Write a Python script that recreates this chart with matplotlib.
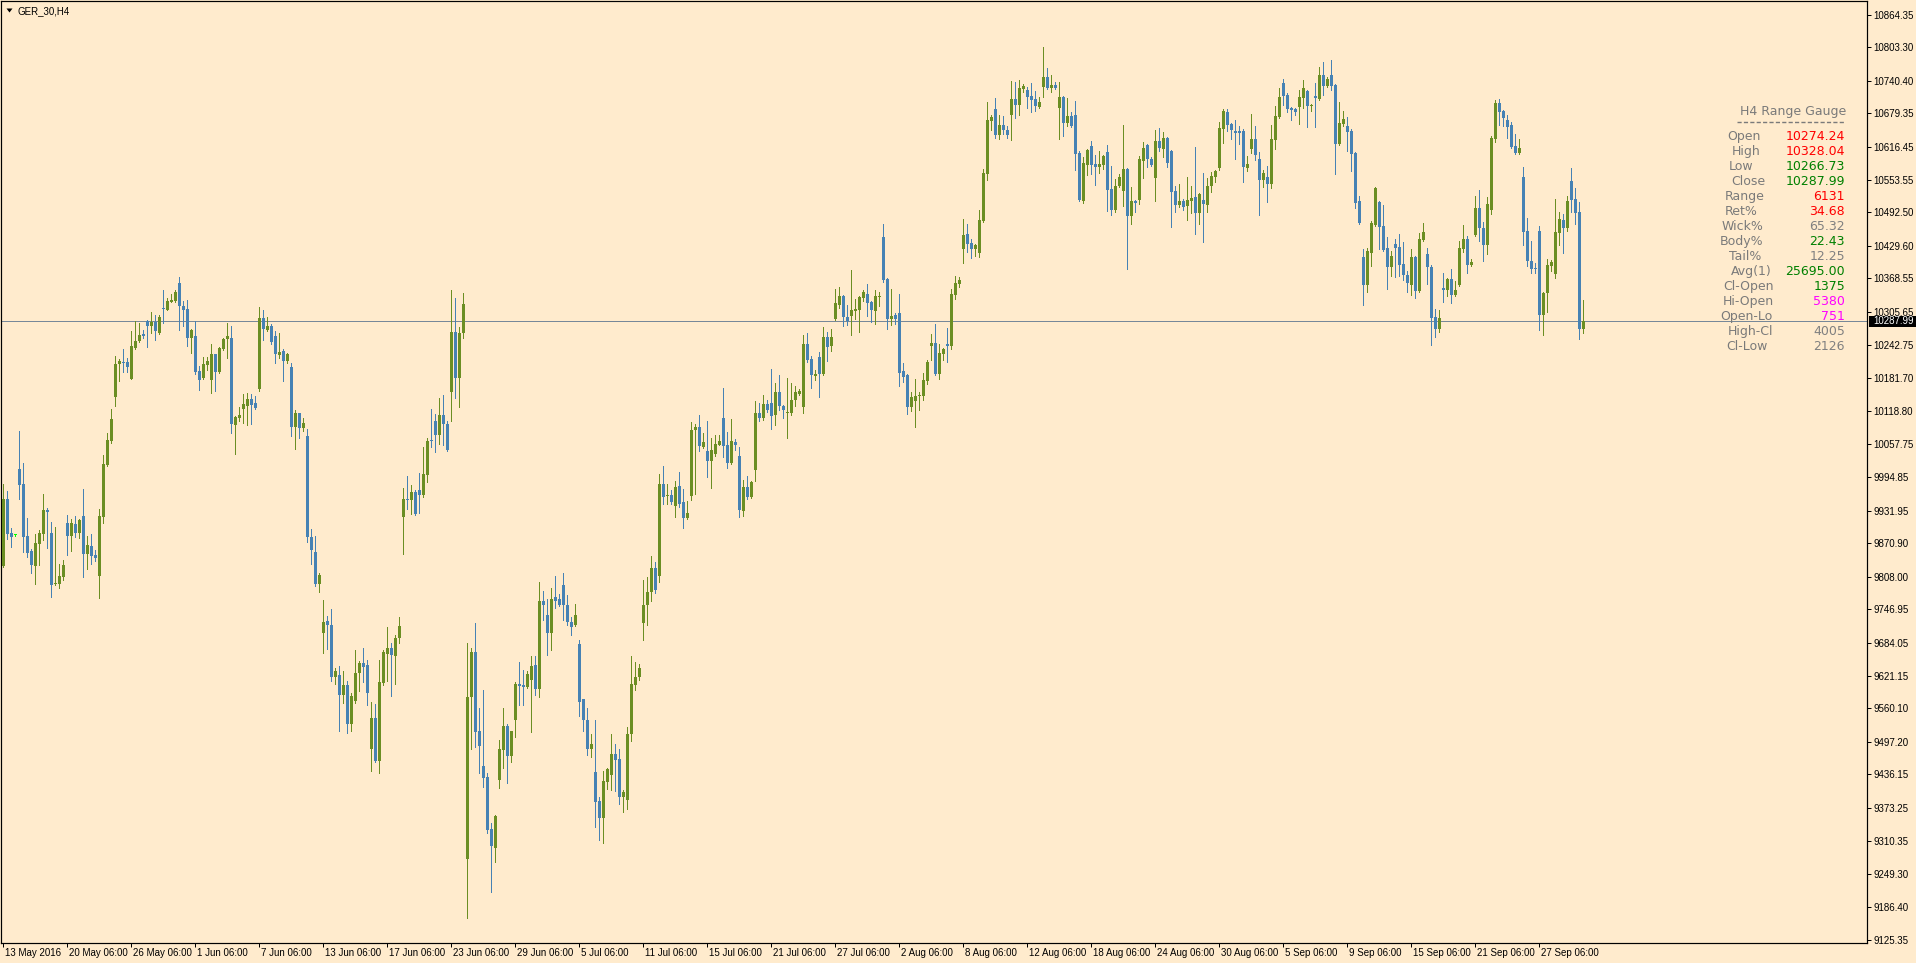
import matplotlib
matplotlib.use("Agg")
import matplotlib.pyplot as plt
from matplotlib.patches import Rectangle, Polygon
from matplotlib.collections import PatchCollection
from matplotlib.lines import Line2D
from matplotlib.transforms import ScaledTranslation

# ---------------- data ----------------
symbol_title = "GER_30,H4"

opens = [
9828.5, 9953.9, 9890.0, 9885.6, 10010.3, 9982.1, 9884.3, 9856.1, 9827.9, 9869.3,
9888.1, 9933.2, 9890.0, 9794.1, 9794.1, 9807.2, 9908.7, 9884.3, 9906.9, 9890.0,
9921.9, 9850.5, 9865.5, 9848.6, 9809.1, 9920.0, 10017.8, 10062.9, 10145.2, 10207.1,
10211.9, 10211.1, 10179.7, 10236.9, 10250.3, 10264.4, 10287.9, 10278.5, 10286.4, 10266.8,
10312.3, 10309.9, 10324.8, 10326.4, 10360.1, 10317.0, 10311.5, 10256.6, 10259.7, 10194.6,
10180.5, 10206.4, 10177.3, 10226.0, 10193.0, 10236.2, 10254.2, 10257.3, 10093.4, 10106.8,
10122.5, 10129.5, 10142.0, 10135.0, 10160.1, 10293.4, 10272.3, 10278.5, 10259.7, 10224.4,
10231.5, 10213.4, 10201.7, 10088.7, 10116.2, 10086.4, 10071.5, 9882.4, 9855.0, 9794.6,
9701.3, 9724.8, 9716.9, 9618.9, 9622.8, 9586.0, 9604.8, 9530.3, 9575.0, 9626.0,
9644.8, 9642.5, 9483.2, 9542.1, 9460.5, 9608.0, 9662.1, 9674.6, 9658.1, 9692.6,
9919.6, 9953.2, 9952.4, 9966.8, 9970.0, 9961.2, 9998.8, 10065.3, 10099.7, 10074.1,
10112.5, 10095.7, 10155.0, 10267.9, 10180.6, 10266.3, 9276.6, 9582.5, 9666.6, 9516.8,
9451.2, 9430.4, 9333.5, 9298.3, 9425.6, 9482.4, 9526.4, 9471.2, 9538.4, 9606.5,
9603.3, 9600.1, 9612.9, 9642.5, 9596.1, 9762.6, 9736.2, 9701.0, 9769.8, 9765.0,
9792.3, 9754.6, 9721.8, 9716.2, 9681.8, 9576.9, 9539.2, 9483.2, 9440.0, 9385.5,
9354.3, 9422.3, 9435.2, 9473.6, 9464.8, 9394.3, 9388.7, 9512.0, 9604.1, 9618.5,
9720.2, 9753.8, 9778.6, 9824.3, 9808.3, 9981.2, 9959.6, 9962.0, 9941.2, 9978.0,
9947.6, 9918.8, 9958.8, 10082.9, 10090.1, 10052.5, 10044.5, 10025.3, 10038.1, 10055.7,
10105.3, 10054.9, 10021.3, 10060.5, 10034.1, 9931.6, 9975.6, 9957.2, 10007.6, 10114.9,
10105.3, 10131.8, 10133.4, 10111.7, 10154.2, 10129.4, 10115.7, 10114.9, 10139.8, 10151.8,
10127.4, 10245.2, 10217.0, 10185.7, 10220.8, 10188.8, 10258.4, 10242.1, 10292.3, 10318.6,
10335.5, 10296.0, 10297.9, 10307.3, 10309.2, 10331.7, 10339.3, 10324.2, 10307.3, 10333.6,
10446.4, 10367.5, 10292.3, 10299.8, 10303.5, 10194.5, 10186.9, 10126.8, 10138.1, 10147.5,
10147.5, 10175.7, 10241.5, 10247.1, 10188.8, 10226.4, 10245.2, 10241.5, 10337.4, 10358.0,
10423.9, 10452.1, 10435.1, 10423.9, 10416.3, 10476.5, 10564.9, 10664.5, 10687.1, 10638.2,
10657.0, 10647.6, 10675.8, 10705.9, 10694.6, 10724.7, 10722.8, 10711.5, 10705.9, 10690.8,
10728.4, 10747.2, 10726.6, 10732.2, 10688.9, 10709.6, 10660.8, 10673.9, 10675.8, 10604.4,
10514.1, 10581.8, 10617.5, 10583.7, 10578.0, 10581.8, 10606.2, 10536.7, 10497.2, 10542.3,
10532.9, 10574.3, 10485.9, 10514.1, 10516.0, 10589.3, 10619.4, 10593.1, 10557.4, 10626.9,
10611.9, 10632.5, 10608.1, 10532.9, 10506.6, 10514.1, 10504.7, 10514.1, 10521.6, 10491.5,
10516.0, 10507.2, 10542.3, 10559.9, 10576.1, 10649.5, 10681.4, 10658.9, 10645.7, 10645.7,
10645.7, 10576.1, 10611.9, 10630.7, 10593.1, 10553.6, 10559.2, 10546.1, 10628.8, 10672.0,
10736.0, 10713.4, 10688.9, 10687.1, 10690.8, 10707.8, 10720.9, 10692.7, 10711.5, 10705.9,
10751.0, 10730.3, 10751.0, 10732.2, 10621.3, 10658.9, 10655.1, 10645.7, 10604.4, 10514.1,
10408.8, 10356.2, 10416.3, 10469.0, 10512.2, 10467.1, 10425.7, 10390.0, 10433.3, 10427.6,
10395.7, 10375.0, 10356.2, 10408.8, 10344.9, 10440.8, 10414.5, 10390.0, 10296.0, 10273.4,
10350.5, 10346.8, 10367.5, 10337.4, 10356.2, 10423.9, 10442.7, 10393.8, 10450.2, 10501.0,
10463.3, 10431.4, 10497.2, 10630.7, 10698.4, 10683.3, 10666.4, 10657.0, 10617.5, 10604.4,
10559.2, 10457.7, 10401.3, 10388.1, 10457.7, 10299.8, 10341.1, 10391.9, 10376.9, 10453.9,
10478.4, 10463.3, 10551.7, 10517.9, 10493.4, 10274.24,
]

highs = [
9982.1, 9968.9, 9899.3, 9887.0, 10081.7, 10021.6, 9918.1, 9859.9, 9888.1, 9895.6,
9963.3, 9936.9, 9910.6, 9901.2, 9831.7, 9839.2, 9923.8, 9916.2, 9921.9, 9916.3,
9972.7, 9884.3, 9888.1, 9858.0, 9935.1, 10036.6, 10077.9, 10123.1, 10222.0, 10217.3,
10235.4, 10218.9, 10269.1, 10287.9, 10284.0, 10270.7, 10291.1, 10306.0, 10300.5, 10300.5,
10346.8, 10331.9, 10339.7, 10347.5, 10371.1, 10326.4, 10328.7, 10273.8, 10288.7, 10204.0,
10220.5, 10220.5, 10244.8, 10226.0, 10239.3, 10257.3, 10284.0, 10278.5, 10109.9, 10127.2,
10151.5, 10153.0, 10151.5, 10147.5, 10315.4, 10308.3, 10296.6, 10282.4, 10269.1, 10266.8,
10235.4, 10228.3, 10210.3, 10121.7, 10116.2, 10105.2, 10084.8, 9896.6, 9884.8, 9814.2,
9764.8, 9734.2, 9746.8, 9636.9, 9639.3, 9629.9, 9612.6, 9589.9, 9669.9, 9649.5,
9674.6, 9651.9, 9571.9, 9567.9, 9651.9, 9670.7, 9712.3, 9684.0, 9698.9, 9731.1,
9974.0, 9996.4, 9979.6, 9970.0, 10002.0, 10050.9, 10069.3, 10122.2, 10113.3, 10143.0,
10150.2, 10101.3, 10347.2, 10331.9, 10277.5, 10341.5, 9683.4, 9674.6, 9721.0, 9560.1,
9595.3, 9438.4, 9344.7, 9359.0, 9501.6, 9560.1, 9530.4, 9518.4, 9610.5, 9646.5,
9632.9, 9629.7, 9657.8, 9659.4, 9797.9, 9781.0, 9765.8, 9786.7, 9809.1, 9775.4,
9814.7, 9773.0, 9732.2, 9757.0, 9689.0, 9578.5, 9560.1, 9511.2, 9537.6, 9394.3,
9441.6, 9448.0, 9511.2, 9492.8, 9483.2, 9406.3, 9524.8, 9657.8, 9648.1, 9644.1,
9801.1, 9806.7, 9846.7, 9835.5, 10000.4, 10015.7, 9981.2, 9970.0, 9986.8, 10004.4,
9972.4, 9950.0, 10098.9, 10094.1, 10112.5, 10077.3, 10101.3, 10067.7, 10073.3, 10075.0,
10163.0, 10080.5, 10103.7, 10066.9, 10052.5, 9989.2, 9996.4, 9987.6, 10138.2, 10133.4,
10148.6, 10140.6, 10197.4, 10171.0, 10187.0, 10131.0, 10182.2, 10171.0, 10165.4, 10160.6,
10262.8, 10265.9, 10222.7, 10196.4, 10230.2, 10277.2, 10267.8, 10273.4, 10348.7, 10352.4,
10337.0, 10318.6, 10384.4, 10329.8, 10335.0, 10346.8, 10358.0, 10326.1, 10346.8, 10343.0,
10470.9, 10369.0, 10348.7, 10303.5, 10339.3, 10209.5, 10188.5, 10155.0, 10179.4, 10155.0,
10190.7, 10215.2, 10264.0, 10282.9, 10245.2, 10237.7, 10275.3, 10348.7, 10373.1, 10371.2,
10480.3, 10470.9, 10442.7, 10433.3, 10497.2, 10574.3, 10700.2, 10675.8, 10707.8, 10675.8,
10673.9, 10655.1, 10739.7, 10737.8, 10741.6, 10734.1, 10728.4, 10736.0, 10720.9, 10709.6,
10804.3, 10764.2, 10751.0, 10737.8, 10737.8, 10711.5, 10707.8, 10681.4, 10702.1, 10608.1,
10596.8, 10611.9, 10626.9, 10600.6, 10608.1, 10600.0, 10619.4, 10579.9, 10555.5, 10564.9,
10657.0, 10576.1, 10540.4, 10516.0, 10598.7, 10625.0, 10621.3, 10596.8, 10647.6, 10651.4,
10643.8, 10634.4, 10610.0, 10542.3, 10546.1, 10517.9, 10559.2, 10542.3, 10615.6, 10529.1,
10566.1, 10557.4, 10568.6, 10572.4, 10662.6, 10687.1, 10687.1, 10660.0, 10666.4, 10655.1,
10649.5, 10598.7, 10677.7, 10655.1, 10606.2, 10572.4, 10579.9, 10657.0, 10692.7, 10726.6,
10743.5, 10717.2, 10690.0, 10688.9, 10722.8, 10741.6, 10722.8, 10696.5, 10736.0, 10766.0,
10775.4, 10747.2, 10779.2, 10733.5, 10700.2, 10683.3, 10672.0, 10649.5, 10606.2, 10523.5,
10423.9, 10425.7, 10476.5, 10540.4, 10513.5, 10506.6, 10446.4, 10420.1, 10442.7, 10452.1,
10437.0, 10382.5, 10423.9, 10410.7, 10454.0, 10472.7, 10425.7, 10393.8, 10311.0, 10309.2,
10378.7, 10369.3, 10386.3, 10363.7, 10438.9, 10469.0, 10448.3, 10405.1, 10523.5, 10534.8,
10474.6, 10521.6, 10636.3, 10704.0, 10705.9, 10685.2, 10675.8, 10662.6, 10640.1, 10630.7,
10578.0, 10482.1, 10438.9, 10397.5, 10467.1, 10343.0, 10405.1, 10403.2, 10517.9, 10493.4,
10489.7, 10523.5, 10576.1, 10538.5, 10512.2, 10328.04,
]

lows = [
9826.6, 9878.7, 9863.6, 9884.2, 9953.9, 9854.2, 9844.8, 9814.7, 9794.1, 9829.8,
9876.8, 9861.7, 9769.6, 9792.2, 9786.5, 9801.6, 9848.6, 9856.1, 9882.4, 9880.5,
9807.2, 9822.3, 9831.7, 9837.3, 9767.7, 9908.7, 10015.9, 10059.2, 10129.5, 10175.0,
10192.2, 10192.2, 10179.7, 10235.4, 10249.5, 10257.3, 10239.3, 10266.8, 10252.6, 10263.6,
10284.0, 10308.3, 10324.0, 10324.8, 10270.7, 10278.5, 10240.9, 10227.5, 10188.3, 10159.3,
10179.7, 10196.2, 10153.0, 10157.0, 10191.5, 10233.8, 10219.7, 10077.0, 10039.3, 10100.5,
10097.3, 10092.6, 10094.2, 10123.2, 10157.0, 10252.6, 10269.9, 10245.6, 10210.3, 10219.7,
10175.0, 10210.3, 10072.3, 10047.2, 10068.3, 10081.7, 9872.2, 9831.5, 9790.7, 9779.7,
9664.4, 9672.3, 9611.1, 9605.6, 9517.0, 9571.1, 9513.0, 9517.7, 9571.1, 9593.8,
9610.3, 9567.1, 9443.2, 9458.9, 9439.3, 9604.0, 9612.6, 9583.6, 9606.4, 9684.0,
9850.7, 9934.8, 9925.2, 9924.0, 9927.6, 9957.2, 9985.2, 10052.5, 10041.3, 10056.5,
10054.9, 10043.7, 10101.3, 10143.0, 10126.2, 10255.9, 9166.1, 9484.0, 9488.0, 9438.4,
9412.7, 9326.3, 9215.8, 9271.8, 9411.1, 9448.0, 9419.9, 9459.2, 9506.4, 9566.5,
9566.5, 9597.7, 9516.0, 9584.9, 9581.7, 9726.6, 9660.2, 9669.8, 9749.8, 9752.6,
9726.6, 9717.0, 9698.6, 9714.6, 9545.6, 9518.4, 9472.0, 9468.0, 9336.7, 9312.6,
9306.2, 9408.7, 9407.1, 9404.7, 9379.9, 9365.5, 9371.1, 9498.4, 9594.5, 9612.9,
9688.2, 9717.0, 9761.8, 9777.8, 9797.9, 9944.4, 9944.4, 9944.4, 9919.6, 9938.8,
9898.8, 9916.4, 9952.4, 9963.6, 10044.5, 10049.3, 9994.8, 9974.8, 10034.1, 10054.5,
10033.3, 10012.5, 10018.9, 10046.1, 9919.6, 9922.0, 9953.2, 9956.0, 9986.8, 10100.5,
10102.9, 10117.4, 10086.1, 10093.3, 10121.4, 10106.1, 10068.5, 10111.7, 10128.6, 10148.6,
10116.1, 10210.8, 10163.1, 10177.6, 10146.2, 10186.9, 10213.3, 10232.1, 10290.4, 10312.9,
10279.1, 10281.0, 10262.2, 10292.3, 10267.8, 10326.1, 10297.9, 10286.6, 10282.9, 10316.7,
10361.8, 10273.4, 10281.0, 10282.9, 10166.3, 10173.8, 10114.2, 10119.3, 10089.2, 10121.2,
10140.0, 10170.1, 10215.2, 10187.3, 10179.4, 10215.2, 10211.4, 10235.8, 10329.8, 10352.4,
10397.5, 10418.2, 10406.9, 10410.7, 10408.8, 10475.0, 10553.6, 10647.6, 10632.5, 10630.7,
10640.1, 10632.5, 10628.8, 10670.2, 10675.8, 10719.0, 10688.9, 10681.4, 10683.3, 10689.5,
10709.6, 10724.7, 10719.0, 10724.7, 10630.7, 10636.3, 10655.1, 10653.2, 10572.4, 10514.1,
10510.3, 10563.0, 10564.9, 10544.2, 10566.7, 10574.3, 10495.3, 10487.8, 10493.4, 10540.4,
10504.7, 10386.3, 10470.9, 10493.4, 10508.5, 10557.4, 10578.0, 10580.5, 10514.1, 10608.1,
10596.8, 10578.0, 10465.2, 10493.4, 10502.8, 10497.2, 10478.4, 10491.5, 10452.1, 10470.9,
10437.6, 10494.0, 10531.7, 10550.5, 10572.4, 10623.1, 10645.7, 10630.7, 10593.1, 10621.3,
10549.8, 10570.5, 10604.4, 10591.2, 10487.8, 10540.4, 10512.2, 10538.5, 10611.9, 10670.5,
10694.6, 10681.4, 10666.4, 10675.8, 10658.9, 10688.9, 10653.2, 10683.3, 10653.2, 10704.5,
10713.4, 10728.4, 10722.8, 10564.9, 10619.4, 10655.1, 10608.1, 10570.5, 10500.9, 10471.5,
10318.6, 10343.0, 10391.9, 10467.1, 10423.9, 10420.1, 10348.7, 10373.1, 10371.2, 10373.1,
10365.6, 10343.0, 10337.4, 10331.7, 10343.5, 10438.9, 10358.0, 10243.4, 10258.4, 10267.8,
10324.2, 10335.5, 10322.3, 10335.5, 10355.0, 10418.2, 10378.7, 10391.9, 10448.3, 10438.9,
10401.3, 10414.5, 10489.7, 10625.0, 10657.0, 10655.1, 10632.5, 10614.5, 10602.5, 10602.5,
10431.4, 10391.9, 10378.7, 10378.7, 10271.6, 10262.2, 10305.4, 10382.5, 10369.3, 10431.4,
10416.3, 10457.7, 10493.4, 10470.9, 10254.6, 10266.73,
]

closes = [
9953.9, 9888.1, 9882.4, 9885.6, 9980.2, 9882.4, 9852.3, 9829.8, 9871.1, 9890.0,
9933.2, 9929.4, 9792.2, 9795.9, 9809.1, 9829.8, 9884.3, 9908.7, 9890.0, 9914.4,
9850.5, 9867.4, 9846.7, 9842.9, 9921.9, 10019.7, 10064.8, 10104.3, 10207.1, 10212.6,
10210.3, 10201.7, 10240.9, 10250.3, 10261.3, 10259.7, 10278.5, 10286.4, 10269.1, 10296.6,
10310.7, 10326.4, 10328.7, 10343.6, 10316.2, 10309.9, 10256.6, 10271.5, 10193.0, 10177.3,
10207.1, 10212.6, 10226.0, 10193.0, 10237.7, 10254.2, 10259.7, 10094.2, 10108.3, 10112.2,
10131.9, 10142.0, 10131.1, 10125.6, 10293.4, 10273.0, 10278.5, 10249.5, 10226.8, 10230.7,
10213.4, 10226.8, 10088.7, 10116.2, 10086.4, 10095.8, 9882.4, 9858.1, 9794.6, 9810.3,
9723.2, 9716.9, 9618.9, 9629.9, 9586.0, 9604.8, 9530.3, 9583.6, 9626.0, 9646.4,
9638.5, 9589.9, 9542.1, 9460.5, 9609.5, 9666.0, 9674.6, 9661.3, 9693.4, 9715.4,
9953.2, 9951.6, 9966.8, 9925.2, 9961.2, 10000.4, 10062.9, 10062.1, 10074.1, 10112.5,
10094.9, 10046.9, 10267.9, 10180.6, 10266.3, 10320.7, 9582.5, 9666.6, 9516.0, 9490.4,
9428.8, 9331.9, 9300.7, 9357.5, 9483.2, 9526.4, 9471.2, 9516.8, 9606.5, 9601.7,
9600.1, 9624.9, 9640.1, 9596.1, 9762.6, 9753.8, 9701.0, 9765.8, 9762.6, 9753.8,
9753.8, 9721.8, 9713.8, 9736.2, 9572.9, 9538.4, 9483.2, 9492.8, 9384.7, 9354.3,
9423.1, 9446.4, 9473.6, 9462.4, 9394.3, 9403.1, 9512.8, 9606.5, 9620.1, 9637.0,
9754.6, 9779.4, 9824.3, 9783.5, 9981.2, 9957.2, 9962.0, 9947.6, 9975.6, 9944.4,
9918.8, 9927.6, 10084.5, 10090.1, 10053.3, 10060.5, 10025.3, 10046.9, 10056.5, 10063.7,
10053.3, 10021.3, 10062.1, 10054.9, 9934.0, 9975.6, 9957.2, 9986.0, 10114.9, 10106.9,
10131.8, 10121.4, 10110.1, 10154.2, 10128.6, 10121.4, 10118.2, 10140.6, 10154.2, 10157.4,
10245.2, 10215.8, 10187.6, 10189.5, 10189.5, 10258.4, 10239.6, 10258.4, 10322.3, 10335.5,
10296.0, 10288.5, 10309.2, 10311.0, 10333.6, 10343.0, 10322.3, 10309.2, 10335.5, 10335.5,
10365.6, 10292.3, 10297.9, 10292.3, 10190.7, 10183.2, 10126.8, 10145.6, 10147.5, 10149.4,
10177.6, 10211.4, 10247.1, 10188.8, 10228.3, 10235.8, 10241.5, 10339.3, 10360.0, 10365.6,
10450.2, 10433.3, 10423.9, 10431.4, 10478.4, 10566.7, 10666.4, 10672.0, 10638.2, 10657.0,
10647.6, 10638.2, 10705.9, 10694.6, 10726.6, 10730.3, 10709.6, 10704.0, 10692.7, 10700.2,
10747.2, 10726.6, 10732.2, 10726.6, 10709.6, 10660.8, 10673.9, 10655.1, 10602.5, 10516.0,
10585.5, 10610.0, 10581.8, 10578.0, 10583.7, 10598.7, 10534.8, 10497.2, 10542.3, 10559.2,
10574.3, 10485.9, 10514.1, 10510.3, 10593.1, 10613.7, 10593.1, 10581.8, 10626.9, 10613.7,
10632.5, 10585.5, 10531.0, 10506.6, 10514.1, 10502.8, 10516.0, 10519.7, 10491.5, 10527.3,
10509.1, 10542.3, 10561.1, 10570.5, 10651.4, 10683.3, 10657.0, 10647.6, 10642.0, 10642.0,
10578.0, 10583.7, 10630.7, 10600.6, 10553.6, 10566.7, 10546.1, 10630.7, 10673.9, 10709.6,
10711.5, 10687.1, 10685.2, 10681.4, 10709.6, 10726.6, 10692.7, 10694.6, 10707.8, 10751.0,
10730.3, 10743.5, 10730.3, 10621.3, 10660.8, 10668.3, 10643.8, 10602.5, 10510.3, 10472.7,
10356.2, 10420.1, 10472.7, 10538.5, 10465.2, 10422.0, 10390.0, 10410.7, 10425.7, 10393.8,
10375.0, 10359.9, 10408.8, 10344.9, 10442.7, 10455.8, 10390.0, 10294.1, 10273.4, 10294.1,
10346.8, 10367.5, 10337.4, 10346.8, 10425.7, 10442.7, 10393.8, 10399.4, 10501.0, 10463.3,
10431.4, 10508.5, 10632.5, 10698.4, 10681.4, 10670.2, 10653.2, 10615.6, 10604.4, 10613.7,
10455.8, 10401.3, 10386.3, 10386.3, 10299.8, 10341.1, 10393.8, 10399.4, 10455.8, 10480.3,
10463.3, 10514.1, 10516.0, 10491.5, 10273.4, 10287.99,
]

price_ticks = [10864.35, 10803.30, 10740.40, 10679.35, 10616.45, 10553.55, 10492.50,
               10429.60, 10368.55, 10305.65, 10242.75, 10181.70, 10118.80, 10057.75,
               9994.85, 9931.95, 9870.90, 9808.00, 9746.95, 9684.05, 9621.15, 9560.10,
               9497.20, 9436.15, 9373.25, 9310.35, 9249.30, 9186.40, 9125.35]
price_tick_labels = ["%.2f" % v for v in price_ticks]

date_tick_bars = [0, 16, 32, 48, 64, 80, 96, 112, 128, 144, 160, 176, 192, 208, 224,
                  240, 256, 272, 288, 304, 320, 336, 352, 368, 384]
date_tick_labels = ["13 May 2016", "20 May 06:00", "26 May 06:00", "1 Jun 06:00",
                    "7 Jun 06:00", "13 Jun 06:00", "17 Jun 06:00", "23 Jun 06:00",
                    "29 Jun 06:00", "5 Jul 06:00", "11 Jul 06:00", "15 Jul 06:00",
                    "21 Jul 06:00", "27 Jul 06:00", "2 Aug 06:00", "8 Aug 06:00",
                    "12 Aug 06:00", "18 Aug 06:00", "24 Aug 06:00", "30 Aug 06:00",
                    "5 Sep 06:00", "9 Sep 06:00", "15 Sep 06:00", "21 Sep 06:00",
                    "27 Sep 06:00"]

gauge_title = "H4 Range Gauge"
gauge_labels = ["Open", "High", "Low", "Close", "Range", "Ret%", "Wick%", "Body%",
                "Tail%", "Avg(1)", "Cl-Open", "Hi-Open", "Open-Lo", "High-Cl", "Cl-Low"]
gauge_values = ["10274.24", "10328.04", "10266.73", "10287.99", "6131", "34.68",
                "65.32", "22.43", "12.25", "25695.00", "1375", "5380", "751",
                "4005", "2126"]
gauge_value_colors = ["#FF0000", "#FF0000", "#008000", "#008000", "#FF0000", "#FF0000",
                      "#808080", "#008000", "#808080", "#008000", "#008000", "#FF00FF",
                      "#FF00FF", "#808080", "#808080"]

# ---------------- layout / style ----------------
W, H = 1916, 963
BG = "#FFEBCD"
BULL = "#6B8E23"
BEAR = "#4682B4"
DOJI = "#00FF00"
PX = 0.72  # one pixel in points at 100 dpi

plt.rcParams["font.family"] = ["Liberation Sans", "DejaVu Sans"]

fig = plt.figure(figsize=(W / 100, H / 100), dpi=100)
fig.patch.set_facecolor(BG)

ax_left_px, ax_right_px, ax_top_px, ax_bot_px = 1, 1867, 1, 943
ax = fig.add_axes([ax_left_px / W, (H - ax_bot_px) / H,
                   (ax_right_px - ax_left_px) / W, (ax_bot_px - ax_top_px) / H])
ax.set_facecolor(BG)

n = len(closes)
bar_px = 4.0
first_px = 3.3
ax.set_xlim(-(first_px - ax_left_px) / bar_px, (ax_right_px - first_px) / bar_px)
ax.set_ylim(9119.1, 10890.1)

# wicks
xs = list(range(n))
cols = []
for o, c in zip(opens, closes):
    if o == c:
        cols.append(DOJI)
    elif c > o:
        cols.append(BULL)
    else:
        cols.append(BEAR)
ax.vlines(xs, lows, highs, colors=cols, linewidth=1.0 * PX, antialiased=False, zorder=2)

# bodies
min_h = 1.9
rects = []
for i, (o, c) in enumerate(zip(opens, closes)):
    b = min(o, c)
    h = max(abs(c - o), min_h)
    rects.append(Rectangle((i - 0.375, b), 0.75, h))
pc = PatchCollection(rects, facecolors=cols, edgecolors="none", antialiased=False, zorder=3)
ax.add_collection(pc)

# current price line
last_close = closes[-1]
ax.axhline(last_close, color="#778899", linewidth=1.0 * PX, zorder=1)

# axes styling
for s in ax.spines.values():
    s.set_color("black")
    s.set_linewidth(1.2 * PX)

ax.yaxis.tick_right()
ax.set_yticks(price_ticks)
ax.set_yticklabels(price_tick_labels)
ax.tick_params(axis="y", direction="out", length=4 * PX, width=PX, pad=2,
               labelsize=7, colors="black")

ax.set_xticks(date_tick_bars)
ax.set_xticklabels(date_tick_labels)
ax.tick_params(axis="x", direction="out", length=4 * PX, width=PX, pad=1,
               labelsize=7, colors="black")
shift = ScaledTranslation(2 / 100, 0, fig.dpi_scale_trans)
for lab in ax.get_xticklabels():
    lab.set_horizontalalignment("left")
    lab.set_transform(lab.get_transform() + shift)


def fx(px):
    return px / W


def fy(py):
    return 1 - py / H


# current price box on the right axis
yline = ax.transData.transform((0, last_close))[1]  # display pixels from bottom
box_h = 11
fig.patches.append(Rectangle((fx(1869), (yline - box_h / 2) / H), fx(47), box_h / H,
                             transform=fig.transFigure, facecolor="black",
                             edgecolor="none", zorder=5))
fig.text(fx(1873), yline / H, "%.2f" % last_close, color="white", fontsize=7,
         ha="left", va="center", zorder=6)

# title with small triangle
fig.patches.append(Polygon([(fx(6.5), fy(8.5)), (fx(12.5), fy(8.5)), (fx(9.5), fy(12.5))],
                           closed=True, transform=fig.transFigure, facecolor="black",
                           edgecolor="none", zorder=5))
fig.text(fx(18), fy(11), symbol_title, fontsize=7, color="black", ha="left", va="center")

# range gauge panel
GREY = "#7A7A7A"
gfont = ["DejaVu Sans"]
fig.text(fx(1846), fy(111.7), gauge_title, fontsize=9, color=GREY, ha="right",
         va="center", family=gfont)
fig.add_artist(Line2D([fx(1737), fx(1845)], [fy(122.3), fy(122.3)],
                      transform=fig.transFigure, color=GREY, linewidth=1.0,
                      linestyle=(0, (3.0, 1.6))))
label_left_px = [1727, 1732, 1729, 1731, 1725, 1725, 1722, 1720, 1729, 1731,
                 1723, 1723, 1720, 1728, 1726]
for k, (lab, val, col) in enumerate(zip(gauge_labels, gauge_values, gauge_value_colors)):
    yy = 136.7 + 15 * k
    fig.text(fx(label_left_px[k]), fy(yy), lab, fontsize=9, color=GREY, ha="left",
             va="center", family=gfont)
    fig.text(fx(1845), fy(yy), val, fontsize=9, color=col, ha="right",
             va="center", family=gfont)

fig.savefig("out.png", dpi=100, facecolor=BG)
